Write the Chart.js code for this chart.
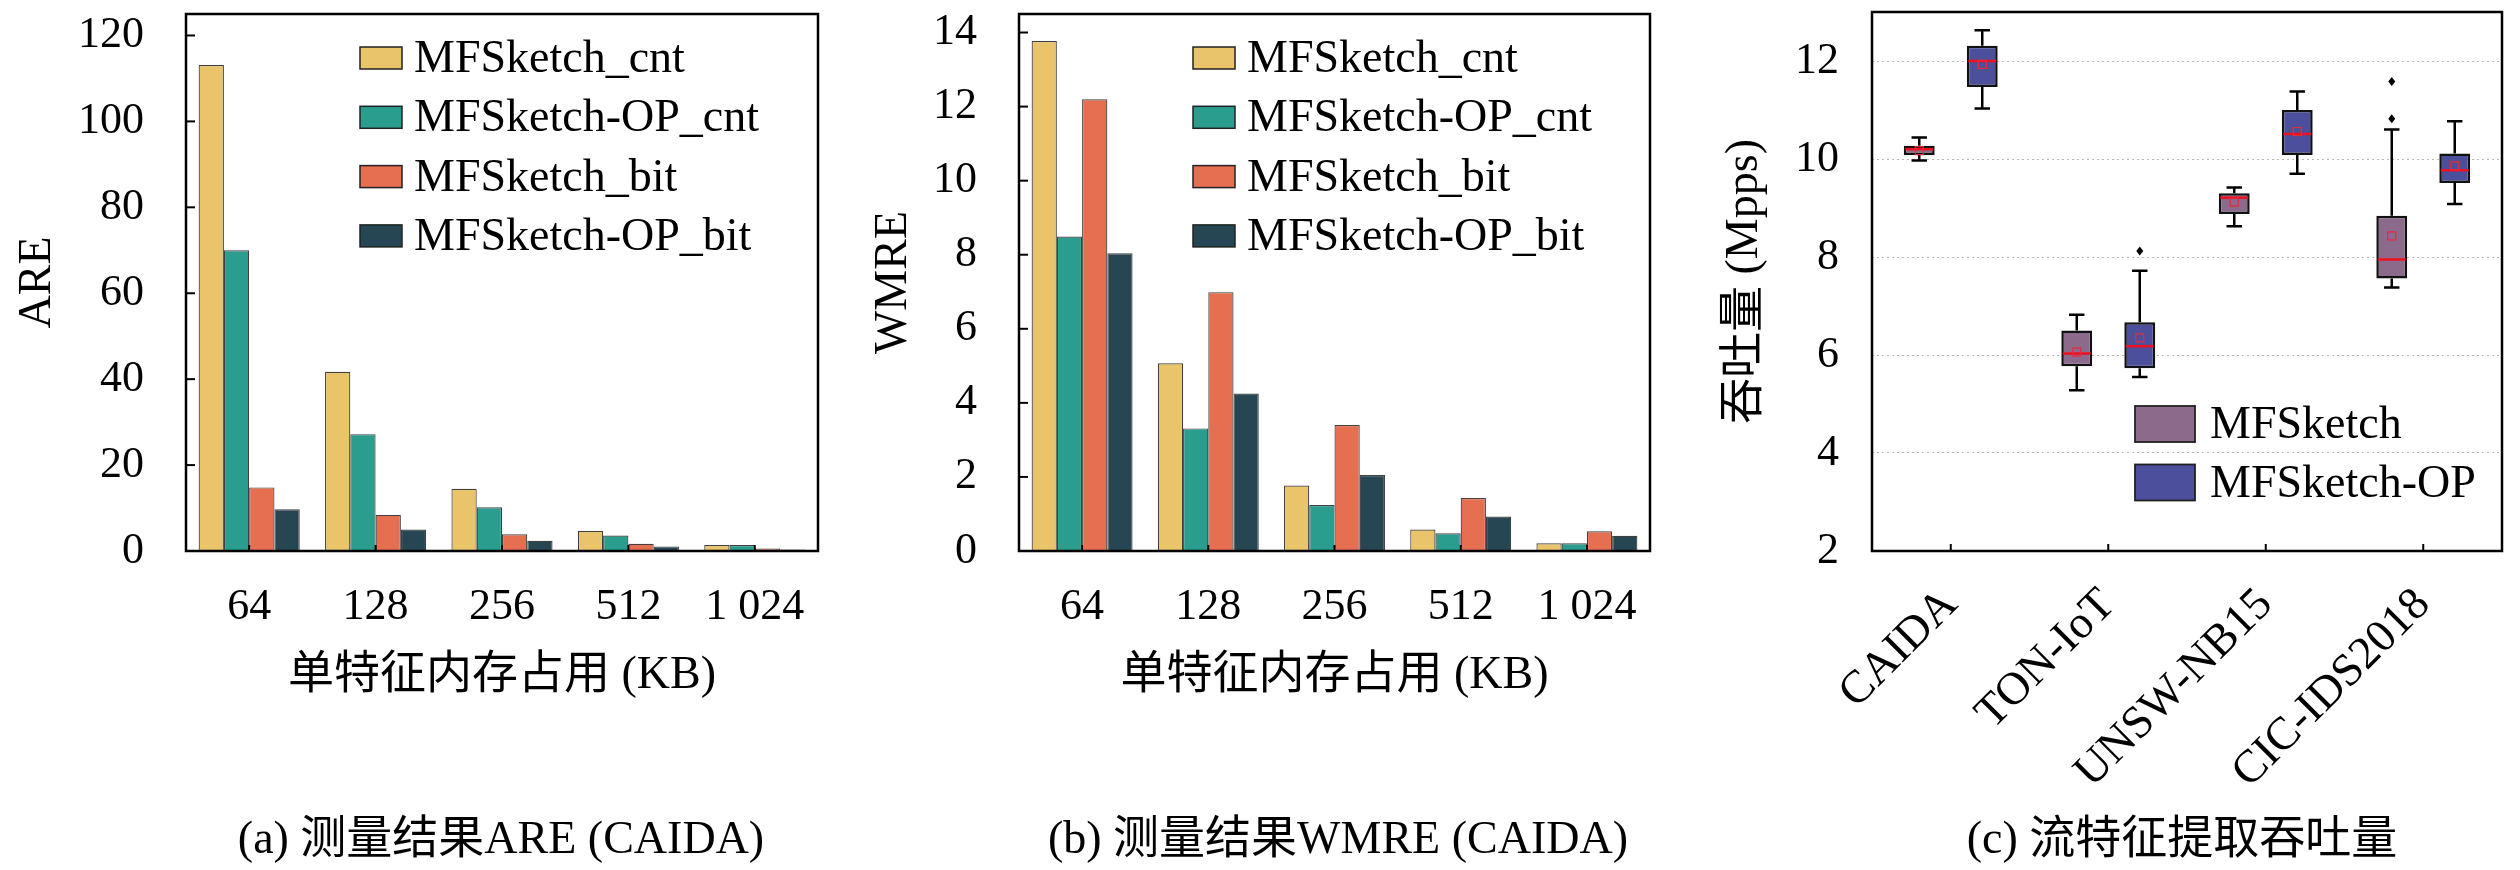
<html><head>
<meta charset="UTF-8">
<meta name="viewport" content="width=device-width, initial-scale=1.0">
<title>MFSketch - 测量结果与吞吐量</title>
<style>
  body {
    margin: 0;
    width: 2520px;
    height: 870px;
    background: #fff;
    overflow: hidden;
    position: relative;
    font-family: 'Liberation Serif', 'Noto Sans CJK SC', serif;
    color: #000;
  }
  .panel {
    position: absolute;
    top: 0;
    width: 840px;
    height: 870px;
  }
  .caption {
    position: absolute;
    top: 810px;
    font-size: 46px;
    line-height: 56px;
    white-space: nowrap;
    transform: translateX(-50%);
  }
</style>
<script src="https://cdn.jsdelivr.net/npm/chart.js"></script>
</head>
<body>
  <div class="panel" style="left:0px"><canvas id="chartA"></canvas></div>
  <div class="panel" style="left:840px"><canvas id="chartB"></canvas></div>
  <div class="panel" style="left:1680px"><canvas id="chartC"></canvas></div>

  <div class="caption" style="left:501px">(a) 测量结果ARE (CAIDA)</div>
  <div class="caption" style="left:1338px">(b) 测量结果WMRE (CAIDA)</div>
  <div class="caption" style="left:2182px">(c) 流特征提取吞吐量</div>

  <script>
    // memory per feature (KB)
    var memLabels = ['64', '128', '256', '512', '1 024'];
    var seriesNames = ['MFSketch_cnt', 'MFSketch-OP_cnt', 'MFSketch_bit', 'MFSketch-OP_bit'];
    var seriesColors = ['#E9C46A', '#2A9D8F', '#E76F51', '#264653'];

    // (a) ARE
    var areCnt   = [113.1, 41.7, 14.5, 4.65, 1.4];
    var areOpCnt = [70.0, 27.2, 10.2, 3.6, 1.4];
    var areBit   = [14.8, 8.4, 3.9, 1.7, 0.6];
    var areOpBit = [9.7, 5.0, 2.4, 1.07, 0.35];

    // (b) WMRE
    var wmreCnt   = [13.77, 5.07, 1.77, 0.58, 0.21];
    var wmreOpCnt = [8.49, 3.31, 1.24, 0.48, 0.21];
    var wmreBit   = [12.2, 6.99, 3.4, 1.43, 0.53];
    var wmreOpBit = [8.04, 4.25, 2.05, 0.93, 0.41];

    // (c) throughput box plots (Mpps)
    var datasetLabels = ['CAIDA', 'TON-IoT', 'UNSW-NB15', 'CIC-IDS2018'];
    var mfsMin  = [9.97, 5.28, 8.63, 7.38];
    var mfsQ1   = [10.08, 5.77, 8.88, 7.56];
    var mfsMed  = [10.2, 6.03, 9.21, 7.95];
    var mfsQ3   = [10.27, 6.5, 9.30, 8.84];
    var mfsMax  = [10.44, 6.82, 9.42, 10.6];
    var mfsMean = [10.17, 6.06, 9.12, 8.43];
    var mfsOut  = [[], [], [], [10.82, 11.58]];
    var opMin   = [11.03, 5.55, 9.70, 9.08];
    var opQ1    = [11.47, 5.73, 10.08, 9.51];
    var opMed   = [12.0, 6.18, 10.51, 9.77];
    var opQ3    = [12.31, 6.67, 11.0, 10.11];
    var opMax   = [12.63, 7.72, 11.38, 10.77];
    var opMean  = [11.93, 6.35, 10.56, 9.86];
    var opOut   = [[], [8.12], [], []];

    var serif = "'Liberation Serif', 'Noto Sans CJK SC', serif";

    // fixed axis sizes so the plot area lands where it should
    function fixSize(w, h) {
      return function(s) {
        if (w !== null) s.width = w;
        if (h !== null) s.height = h;
        s.paddingTop = 0; s.paddingBottom = 0; s.paddingLeft = 0; s.paddingRight = 0;
      };
    }

    // box round the plot area + small inward ticks
    var framePlugin = {
      id: 'frame',
      afterDraw: function(chart, args, o) {
        var ctx = chart.ctx, a = chart.chartArea;
        var xs = chart.scales.x, ys = chart.scales.y;
        ctx.save();
        ctx.strokeStyle = '#000';
        ctx.lineWidth = 2;
        if (o.yTick) {
          ys.ticks.forEach(function(t, i) {
            var py = ys.getPixelForTick(i);
            ctx.beginPath(); ctx.moveTo(a.left, py); ctx.lineTo(a.left + o.yTick, py); ctx.stroke();
          });
        }
        if (o.xTick) {
          xs.ticks.forEach(function(t, i) {
            var px = xs.getPixelForTick(i);
            ctx.beginPath(); ctx.moveTo(px, a.bottom); ctx.lineTo(px, a.bottom - o.xTick); ctx.stroke();
          });
        }
        ctx.lineWidth = 2.5;
        ctx.strokeRect(a.left, a.top, a.right - a.left, a.bottom - a.top);
        ctx.restore();
      }
    };

    // legend placed inside the plot
    var boxLegend = {
      id: 'boxLegend',
      afterDraw: function(chart, args, o) {
        var ctx = chart.ctx;
        ctx.save();
        ctx.font = o.size + 'px ' + serif;
        ctx.textBaseline = 'middle';
        ctx.textAlign = 'left';
        chart.data.datasets.forEach(function(ds, i) {
          var cy = o.y + i * o.rowH;
          ctx.fillStyle = ds.backgroundColor;
          ctx.fillRect(o.x, cy - o.boxH / 2, o.boxW, o.boxH);
          ctx.lineWidth = o.lw;
          ctx.strokeStyle = '#222';
          ctx.strokeRect(o.x, cy - o.boxH / 2, o.boxW, o.boxH);
          ctx.fillStyle = '#000';
          ctx.fillText(ds.label, o.x + o.boxW + o.gap, cy + 2);
        });
        ctx.restore();
      }
    };

    function barChart(id, datas, yMax, yStep, yTitle, o) {
      var ctx = document.getElementById(id).getContext('2d');
      return new Chart(ctx, {
        type: 'bar',
        data: {
          labels: memLabels,
          datasets: datas.map(function(d, i) {
            return {
              label: seriesNames[i],
              data: d,
              backgroundColor: seriesColors[i],
              borderColor: 'rgba(30,30,30,0.85)',
              borderWidth: 1.2,
              categoryPercentage: 0.8,
              barPercentage: 1.0
            };
          })
        },
        options: {
          responsive: true,
          maintainAspectRatio: false,
          animation: false,
          devicePixelRatio: 1,
          layout: { padding: { top: 14, right: o.right, left: 0, bottom: 159 } },
          scales: {
            x: {
              grid: { display: false },
              border: { display: false },
              ticks: { color: '#000', font: { family: serif, size: 44 }, padding: 22, autoSkip: false, maxRotation: 0 },
              title: { display: true, text: '单特征内存占用 (KB)', color: '#000', font: { family: serif, size: 46 }, padding: { top: 0, bottom: 7 } },
              afterFit: fixSize(null, 160)
            },
            y: {
              min: 0,
              max: yMax,
              grid: { display: false },
              border: { display: false },
              ticks: { stepSize: yStep, includeBounds: false, color: '#000', font: { family: serif, size: 44 }, padding: 34 },
              title: { display: true, text: yTitle, color: '#000', font: { family: serif, size: 46 }, padding: { top: o.titlePad, bottom: 0 } },
              afterFit: fixSize(o.yWidth, null)
            }
          },
          plugins: {
            legend: { display: false },
            tooltip: { enabled: false },
            frame: { yTick: 9, xTick: 6 },
            boxLegend: { x: o.legX, y: 58, rowH: 59.3, boxW: 42, boxH: 22, gap: 12, size: 46, lw: 1.5 }
          }
        },
        plugins: [framePlugin, boxLegend]
      });
    }

    barChart('chartA', [areCnt, areOpCnt, areBit, areOpBit], 125, 20, 'ARE',
      { right: 22, yWidth: 186, titlePad: 10, legX: 360 });
    barChart('chartB', [wmreCnt, wmreOpCnt, wmreBit, wmreOpBit], 14.5, 2, 'WMRE',
      { right: 30, yWidth: 179, titlePad: 26, legX: 353 });

    // whiskers, medians, means and outliers for the box plot
    var boxParts = {
      id: 'boxParts',
      beforeDatasetsDraw: function(chart) {
        var ctx = chart.ctx, ys = chart.scales.y;
        ctx.save();
        ctx.strokeStyle = '#000';
        ctx.lineWidth = 2.5;
        chart.data.datasets.forEach(function(ds, i) {
          chart.getDatasetMeta(i).data.forEach(function(bar, j) {
            var cx = bar.x, half = bar.width * 0.25;
            var lo = ys.getPixelForValue(ds.stats.min[j]);
            var hi = ys.getPixelForValue(ds.stats.max[j]);
            var q1 = ys.getPixelForValue(ds.data[j][0]);
            var q3 = ys.getPixelForValue(ds.data[j][1]);
            ctx.beginPath();
            ctx.moveTo(cx, q3); ctx.lineTo(cx, hi);
            ctx.moveTo(cx - half, hi); ctx.lineTo(cx + half, hi);
            ctx.moveTo(cx, q1); ctx.lineTo(cx, lo);
            ctx.moveTo(cx - half, lo); ctx.lineTo(cx + half, lo);
            ctx.stroke();
          });
        });
        ctx.restore();
      },
      afterDatasetsDraw: function(chart) {
        var ctx = chart.ctx, ys = chart.scales.y;
        ctx.save();
        chart.data.datasets.forEach(function(ds, i) {
          chart.getDatasetMeta(i).data.forEach(function(bar, j) {
            var cx = bar.x, w = bar.width;
            var med = ys.getPixelForValue(ds.stats.med[j]);
            ctx.strokeStyle = '#F0101E';
            ctx.lineWidth = 2.5;
            ctx.beginPath(); ctx.moveTo(cx - w / 2 + 1.5, med); ctx.lineTo(cx + w / 2 - 1.5, med); ctx.stroke();
            var mean = ys.getPixelForValue(ds.stats.mean[j]);
            ctx.strokeStyle = '#E8283C';
            ctx.lineWidth = 1.2;
            ctx.strokeRect(cx - 4, mean - 4, 8, 8);
            ctx.fillStyle = '#000';
            ds.stats.out[j].forEach(function(v) {
              var py = ys.getPixelForValue(v);
              ctx.beginPath();
              ctx.moveTo(cx, py - 4.5); ctx.lineTo(cx + 3.5, py); ctx.lineTo(cx, py + 4.5); ctx.lineTo(cx - 3.5, py);
              ctx.closePath(); ctx.fill();
            });
          });
        });
        ctx.restore();
      }
    };

    var ctxC = document.getElementById('chartC').getContext('2d');
    var throughputChart = new Chart(ctxC, {
      type: 'bar',
      data: {
        labels: datasetLabels,
        datasets: [{
          label: 'MFSketch',
          data: mfsQ1.map(function(q, i) { return [q, mfsQ3[i]]; }),
          stats: { min: mfsMin, med: mfsMed, max: mfsMax, mean: mfsMean, out: mfsOut },
          backgroundColor: '#8C6A8C',
          borderColor: '#111',
          borderWidth: 2.5,
          borderSkipped: false,
          categoryPercentage: 0.8,
          barPercentage: 0.49
        }, {
          label: 'MFSketch-OP',
          data: opQ1.map(function(q, i) { return [q, opQ3[i]]; }),
          stats: { min: opMin, med: opMed, max: opMax, mean: opMean, out: opOut },
          backgroundColor: '#4B4F9C',
          borderColor: '#111',
          borderWidth: 2.5,
          borderSkipped: false,
          categoryPercentage: 0.8,
          barPercentage: 0.49
        }]
      },
      options: {
        responsive: true,
        maintainAspectRatio: false,
        animation: false,
        devicePixelRatio: 1,
        layout: { padding: { top: 12, right: 18, left: 0, bottom: 0 } },
        scales: {
          x: {
            grid: { display: false },
            border: { display: false },
            ticks: { color: '#000', font: { family: serif, size: 46 }, padding: 19, autoSkip: false, minRotation: 45, maxRotation: 45 },
            afterFit: fixSize(null, 319)
          },
          y: {
            min: 2,
            max: 13,
            grid: { color: '#b8b8b8', lineWidth: 1, drawTicks: false },
            border: { display: false, dash: [2, 3] },
            ticks: { stepSize: 2, includeBounds: false, color: '#000', font: { family: serif, size: 44 }, padding: 33 },
            title: { display: true, text: '吞吐量 (Mpps)', color: '#000', font: { family: serif, size: 46 }, padding: { top: 37, bottom: 0 } },
            afterFit: fixSize(192, null)
          }
        },
        plugins: {
          legend: { display: false },
          tooltip: { enabled: false },
          frame: { yTick: 0, xTick: 7 },
          boxLegend: { x: 455, y: 424, rowH: 58.5, boxW: 60, boxH: 36, gap: 15, size: 46, lw: 1.8 }
        }
      },
      plugins: [boxParts, framePlugin, boxLegend]
    });
  </script>
</body>
</html>
